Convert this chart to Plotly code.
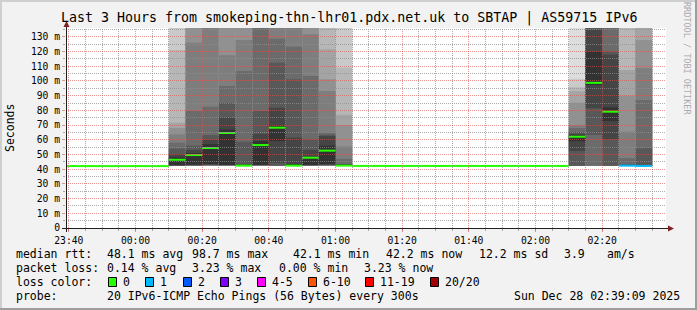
import math
import plotly.graph_objects as go
import pandas as pd

# ------------------------------------------------------------------ data
title_text = "Last 3 Hours from smokeping-thn-lhr01.pdx.net.uk to SBTAP | AS59715 IPv6"
x_start = "2025-12-27 23:39:09"
x_end = "2025-12-28 02:39:09"
y_max = 136

bin_starts = [
    "2025-12-27 23:35", "2025-12-27 23:40", "2025-12-27 23:45", "2025-12-27 23:50",
    "2025-12-27 23:55", "2025-12-28 00:00", "2025-12-28 00:05", "2025-12-28 00:10",
    "2025-12-28 00:15", "2025-12-28 00:20", "2025-12-28 00:25", "2025-12-28 00:30",
    "2025-12-28 00:35", "2025-12-28 00:40", "2025-12-28 00:45", "2025-12-28 00:50",
    "2025-12-28 00:55", "2025-12-28 01:00", "2025-12-28 01:05", "2025-12-28 01:10",
    "2025-12-28 01:15", "2025-12-28 01:20", "2025-12-28 01:25", "2025-12-28 01:30",
    "2025-12-28 01:35", "2025-12-28 01:40", "2025-12-28 01:45", "2025-12-28 01:50",
    "2025-12-28 01:55", "2025-12-28 02:00", "2025-12-28 02:05", "2025-12-28 02:10",
    "2025-12-28 02:15", "2025-12-28 02:20", "2025-12-28 02:25", "2025-12-28 02:30",
]
median_ms = [
    42.1, 42.1, 42.1, 42.1, 42.1, 42.1, 42.1, 46.4,
    49.6, 54.4, 64.6, 42.4, 56.4, 68.2, 42.4, 47.8,
    52.6, 42.4, 42.2, 42.2, 42.2, 42.2, 42.2, 42.2,
    42.2, 42.2, 42.2, 42.2, 42.2, 42.2, 42.2, 62.1,
    98.7, 79.1, 42.4, 42.2,
]
lost_pings = [0] * 34 + [1, 1]

smoke_bins = [
    "2025-12-28 00:10", "2025-12-28 00:15", "2025-12-28 00:20", "2025-12-28 00:25",
    "2025-12-28 00:30", "2025-12-28 00:35", "2025-12-28 00:40", "2025-12-28 00:45",
    "2025-12-28 00:50", "2025-12-28 00:55", "2025-12-28 01:00", "2025-12-28 02:10",
    "2025-12-28 02:15", "2025-12-28 02:20", "2025-12-28 02:25", "2025-12-28 02:30",
]
# 20 sorted ping RTTs (ms) per 5-minute step, None = lost ping
smoke_pings = [
    [42.1, 42.1, 42.2, 42.2, 42.3, 42.3, 42.4, 42.5, 42.6, 42.8, 48.0, 50.0, 54.0, 58.0, 63.7, 68.0, 71.6, 121.0, 150.0, 175.0],
    [42.1, 42.2, 42.2, 42.3, 42.3, 42.4, 42.5, 42.6, 42.8, 43.2, 51.0, 53.0, 56.0, 79.5, 126.0, 145.0, 160.0, 175.0, 190.0, 210.0],
    [42.1, 42.2, 42.2, 42.3, 42.4, 42.5, 42.6, 42.8, 43.0, 43.5, 57.0, 60.0, 63.2, 82.5, 145.0, 160.0, 175.0, 190.0, 205.0, 220.0],
    [42.1, 42.2, 42.2, 42.3, 42.4, 42.5, 42.6, 42.7, 42.8, 43.0, 67.0, 75.0, 85.0, 96.5, 117.5, 145.0, 160.0, 175.0, 190.0, 210.0],
    [42.1, 42.1, 42.1, 42.2, 42.2, 42.2, 42.3, 42.3, 42.3, 42.4, 42.8, 43.5, 58.7, 106.7, 127.8, 145.0, 160.0, 175.0, 190.0, 210.0],
    [42.1, 42.2, 42.2, 42.3, 42.4, 42.5, 42.6, 42.7, 42.8, 43.0, 59.0, 64.0, 79.5, 150.0, 165.0, 180.0, 195.0, 210.0, 225.0, 240.0],
    [42.1, 42.1, 42.2, 42.2, 42.3, 42.3, 42.4, 42.5, 44.4, 59.1, 69.5, 81.8, 112.4, 128.7, 145.0, 160.0, 175.0, 190.0, 205.0, 220.0],
    [42.1, 42.1, 42.2, 42.2, 42.2, 42.3, 42.3, 42.3, 42.4, 42.4, 43.0, 61.4, 101.1, 123.3, 145.0, 160.0, 175.0, 190.0, 205.0, 220.0],
    [42.1, 42.2, 42.2, 42.3, 42.3, 42.4, 42.5, 42.6, 42.8, 43.0, 48.5, 53.0, 60.3, 103.3, 131.7, 145.0, 160.0, 175.0, 190.0, 205.0],
    [42.1, 42.2, 42.2, 42.3, 42.4, 42.5, 42.6, 42.8, 43.0, 43.5, 56.0, 62.5, 63.5, 64.8, 93.1, 101.1, 121.5, 150.0, 170.0, 190.0],
    [42.1, 42.1, 42.1, 42.2, 42.2, 42.2, 42.3, 42.3, 42.3, 42.4, 42.7, 43.0, 43.5, 47.0, 55.5, 70.0, 77.0, 109.0, 150.0, 175.0],
    [42.1, 42.1, 42.2, 42.2, 42.2, 42.3, 42.3, 42.3, 52.3, 59.0, 63.2, 64.0, 65.3, 68.0, 70.0, 85.2, 93.0, 95.7, 101.5, 150.0],
    [42.1, 42.1, 42.2, 42.2, 42.3, 42.3, 42.4, 63.2, 81.4, 97.2, 119.9, 134.6, 145.0, 160.0, 175.0, 190.0, 205.0, 220.0, 235.0, 250.0],
    [42.1, 42.2, 42.2, 42.3, 42.3, 42.3, 42.4, 42.4, 60.3, 72.7, 82.0, 118.0, 120.3, 150.0, 165.0, 180.0, 195.0, 210.0, 225.0, 240.0],
    [42.1, 42.1, 42.2, 42.2, 42.2, 42.3, 42.3, 42.3, 42.4, 42.4, 42.6, 42.8, 43.0, 47.5, 65.5, 90.0, 107.5, 150.0, 170.0, None],
    [42.1, 42.1, 42.1, 42.2, 42.2, 42.2, 42.2, 42.3, 42.3, 42.4, 42.5, 42.6, 54.2, 87.0, 108.6, 127.8, 150.0, 170.0, 190.0, None],
]

x_tick_vals = ["2025-12-27 23:40", "2025-12-28 00:00", "2025-12-28 00:20", "2025-12-28 00:40",
               "2025-12-28 01:00", "2025-12-28 01:20", "2025-12-28 01:40", "2025-12-28 02:00",
               "2025-12-28 02:20"]
x_tick_text = ["23:40", "00:00", "00:20", "00:40", "01:00", "01:20", "01:40", "02:00", "02:20"]
x_minor_first = "2025-12-27 23:40"
x_minor_last = "2025-12-28 02:35"
y_tick_vals = [0, 10, 20, 30, 40, 50, 60, 70, 80, 90, 100, 110, 120, 130]
y_tick_text = ["0", "10 m", "20 m", "30 m", "40 m", "50 m", "60 m", "70 m", "80 m",
               "90 m", "100 m", "110 m", "120 m", "130 m"]
y_minor_vals = [5, 15, 25, 35, 45, 55, 65, 75, 85, 95, 105, 115, 125, 135]

loss_labels = ["0", "1", "2", "3", "4-5", "6-10", "11-19", "20/20"]
loss_upper = [0, 1, 2, 3, 5, 10, 19, 20]
loss_colors = ["#26ff00", "#00b8ff", "#0059ff", "#7e00ff", "#ff00ff", "#ff5500", "#ff0000", "#a00000"]

rtt_stats = ["48.1 ms avg", "98.7 ms max", "42.1 ms min", "42.2 ms now", "12.2 ms sd", "3.9", "am/s"]
loss_stats = ["0.14 % avg", "3.23 % max", "0.00 % min", "3.23 % now"]
probe_text = "20 IPv6-ICMP Echo Pings (56 Bytes) every 300s"
stamp_text = "Sun Dec 28 02:39:09 2025"

# ------------------------------------------------------------------ layout geometry (pixels)
W, H = 697, 310
PL, PT, PW, PH = 66, 28, 600, 200
FONT = "DejaVu Sans Mono"
GRID = "rgba(143,143,143,0.75)"
MGRID = "rgba(222,79,79,0.6)"
ARROW = "#801f1f"
AXIS = "#1f1f1f"


def px(x):
    return (x - PL) / PW


def py(y):
    return (PT + PH - y) / PH


t_start = pd.Timestamp(x_start)
t_span = (pd.Timestamp(x_end) - t_start).total_seconds()


def snap_x(t):
    # paper position of a time, snapped to a pixel centre so dotted grid stays crisp
    pix = PL + (pd.Timestamp(t) - t_start).total_seconds() / t_span * PW
    return px(math.floor(pix) + 0.5)


def snap_y(v):
    pix = PT + PH - v / y_max * PH
    return py(math.floor(pix) + 0.5)


fig = go.Figure()

# smoke: 10 nested bands, outer light -> inner dark
step = pd.Timedelta(minutes=5)
for k in range(1, 11):
    xs, bases, heights = [], [], []
    for t, p in zip(smoke_bins, smoke_pings):
        lo, hi = p[k - 1], p[20 - k]
        if lo is None or hi is None:
            continue
        xs.append(t)
        bases.append(lo)
        heights.append(hi - lo)
    c = int(190 / 10 * (10 - k)) + 50
    fig.add_trace(go.Bar(
        x=xs, y=heights, base=bases, width=step.total_seconds() * 1000, offset=0,
        marker=dict(color=f"rgb({c},{c},{c})", line=dict(width=0)),
        hoverinfo="skip", showlegend=False))


# median segments coloured by loss
def loss_index(n):
    for i, u in enumerate(loss_upper):
        if n <= u:
            return i
    return len(loss_upper) - 1


segs = {}
for t, m, n in zip(bin_starts, median_ms, lost_pings):
    i = loss_index(n)
    t0 = pd.Timestamp(t)
    segs.setdefault(i, ([], []))
    segs[i][0].extend([t0, t0 + step, None])
    segs[i][1].extend([m, m, None])
for i, (xs, ys) in segs.items():
    fig.add_trace(go.Scatter(x=xs, y=ys, mode="lines", line=dict(color=loss_colors[i], width=2),
                             hoverinfo="skip", showlegend=False, connectgaps=False))

shapes = []
# grid (drawn above the data, like rrdtool)
minor_times = pd.date_range(x_minor_first, x_minor_last, freq="5min")
major_set = set(pd.to_datetime(x_tick_vals))
for t in minor_times:
    major = t in major_set
    xx = snap_x(t)
    shapes.append(dict(type="line", xref="paper", yref="paper", x0=xx, x1=xx, y0=0, y1=1, layer="above",
                       line=dict(color=MGRID if major else GRID, width=1, dash="1px,1px")))
for v in y_tick_vals[1:] + y_minor_vals:
    major = v in y_tick_vals
    yy = snap_y(v)
    shapes.append(dict(type="line", xref="paper", yref="paper", x0=0, x1=1, y0=yy, y1=yy, layer="above",
                       line=dict(color=MGRID if major else GRID, width=1, dash="1px,1px")))

# axes lines + arrows
shapes.append(dict(type="line", xref="paper", yref="paper", x0=px(62), x1=px(669), y0=py(228.5), y1=py(228.5),
                   line=dict(color=AXIS, width=1), layer="above"))
shapes.append(dict(type="line", xref="paper", yref="paper", x0=px(66.5), x1=px(66.5), y0=py(232), y1=py(26),
                   line=dict(color=AXIS, width=1), layer="above"))
shapes.append(dict(type="path", xref="paper", yref="paper", layer="above",
                   path=f"M {px(668)} {py(225.5)} L {px(674)} {py(228.5)} L {px(668)} {py(231.5)} Z",
                   fillcolor=ARROW, line=dict(color=ARROW, width=0)))
shapes.append(dict(type="path", xref="paper", yref="paper", layer="above",
                   path=f"M {px(63.5)} {py(27)} L {px(66.5)} {py(21)} L {px(69.5)} {py(27)} Z",
                   fillcolor=ARROW, line=dict(color=ARROW, width=0)))

# frame
shapes.append(dict(type="rect", xref="paper", yref="paper", x0=px(0), x1=px(W), y0=py(0), y1=py(2),
                   fillcolor="#cfcfcf", line=dict(width=0), layer="below"))
shapes.append(dict(type="rect", xref="paper", yref="paper", x0=px(0), x1=px(2), y0=py(0), y1=py(H),
                   fillcolor="#cfcfcf", line=dict(width=0), layer="below"))
shapes.append(dict(type="rect", xref="paper", yref="paper", x0=px(0), x1=px(W), y0=py(H - 2), y1=py(H),
                   fillcolor="#9e9e9e", line=dict(width=0), layer="below"))
shapes.append(dict(type="rect", xref="paper", yref="paper", x0=px(W - 2), x1=px(W), y0=py(0), y1=py(H),
                   fillcolor="#9e9e9e", line=dict(width=0), layer="below"))

# legend colour boxes
box_x = [108, 145.3, 182.7, 219.6, 257, 307.6, 365, 430]
for bx, col in zip(box_x, loss_colors):
    shapes.append(dict(type="rect", xref="paper", yref="paper", x0=px(round(bx) + 0.5), x1=px(round(bx) + 8.5),
                       y0=py(286.5), y1=py(277.5), fillcolor=col, line=dict(color="#000000", width=1)))

annotations = []


def txt(x, y, s, size=11.5, anchor="left", color="#000000", angle=0):
    annotations.append(dict(x=px(x), y=py(y), xref="paper", yref="paper", text=s, showarrow=False,
                            xanchor=anchor, yanchor="middle", textangle=angle,
                            font=dict(family=FONT, size=size, color=color),
                            borderpad=0, borderwidth=0))


txt(348.5, 18, title_text, size=13.3, anchor="center")
txt(10, 128, "Seconds", size=11.5, anchor="center", angle=-90)
txt(687, 58, "RRDTOOL / TOBI OETIKER", size=8.5, anchor="center", color="#aaaaaa", angle=90)

txt(16, 254, "median rtt:")
for x, s in zip([107, 192.4, 292.9, 385.8, 478.7, 564.4, 606.7], rtt_stats):
    txt(x, 254, s)
txt(16, 268, "packet loss:")
for x, s in zip([107, 192.4, 278.7, 364.4], loss_stats):
    txt(x, 268, s)
txt(16, 282, "loss color:")
for bx, s in zip(box_x, loss_labels):
    txt(bx + 15, 282, s)
txt(16, 296, "probe:")
txt(107, 296, probe_text)
txt(680, 296, stamp_text, anchor="right")

fig.update_layout(
    width=W, height=H,
    margin=dict(l=PL, r=W - PL - PW, t=PT, b=H - PT - PH, pad=0),
    paper_bgcolor="#f2f2f2", plot_bgcolor="#ffffff",
    barmode="overlay", showlegend=False,
    shapes=shapes, annotations=annotations,
    xaxis=dict(type="date", range=[x_start, x_end], showgrid=False, zeroline=False, showline=False,
               tickmode="array", tickvals=x_tick_vals, ticktext=x_tick_text,
               ticks="outside", ticklen=3, tickcolor=MGRID, tickwidth=1,
               tickfont=dict(family=FONT, size=9.7, color="#000000"),
               minor=dict(tickmode="array", tickvals=list(minor_times), ticks="outside",
                          ticklen=2, tickcolor=GRID, showgrid=False),
               fixedrange=True),
    yaxis=dict(range=[0, y_max], showgrid=False, zeroline=False, showline=False,
               tickmode="array", tickvals=y_tick_vals, ticktext=y_tick_text,
               ticks="outside", ticklen=3, tickcolor=MGRID, tickwidth=1,
               tickfont=dict(family=FONT, size=9.7, color="#000000"),
               minor=dict(tickmode="array", tickvals=y_minor_vals, ticks="outside",
                          ticklen=2, tickcolor=GRID, showgrid=False),
               fixedrange=True),
)

fig.write_html("out.html", config={"displayModeBar": False})
